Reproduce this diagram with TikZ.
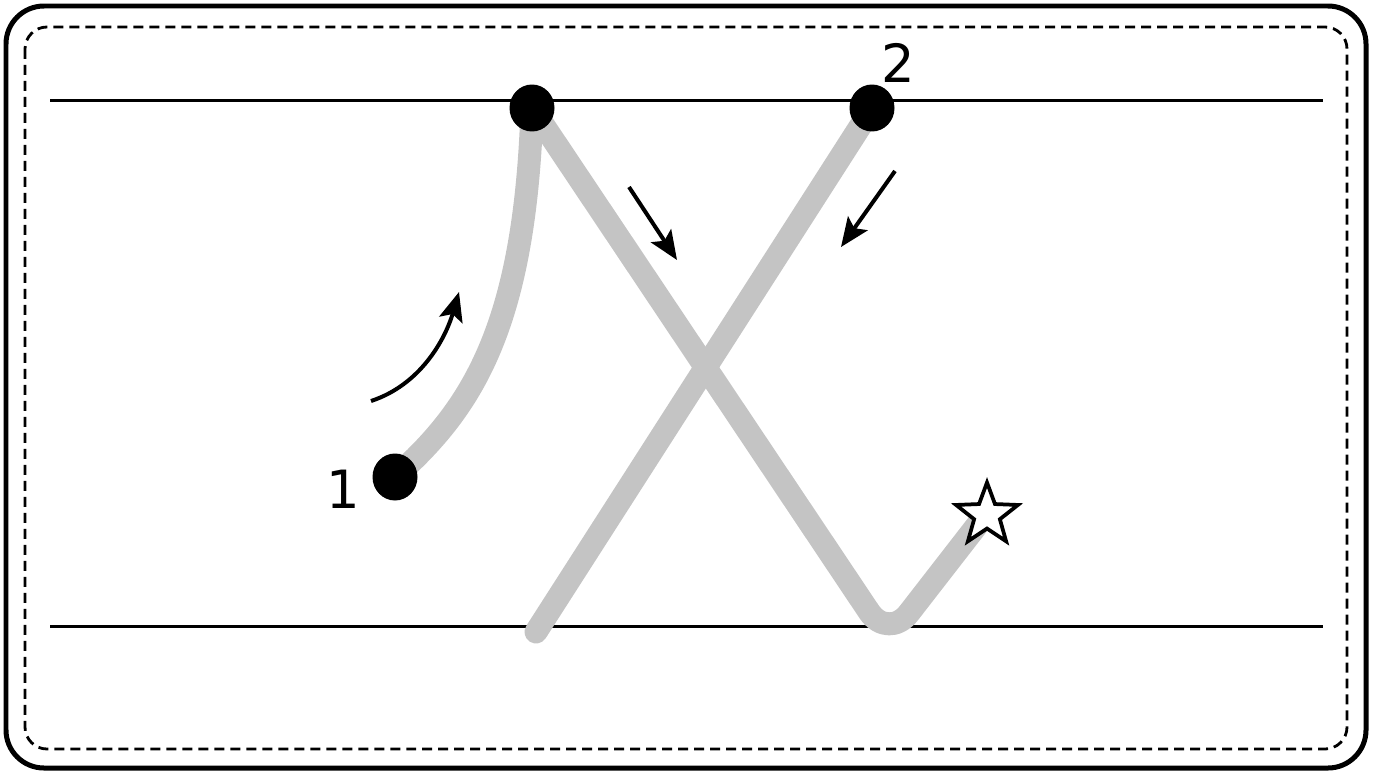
\documentclass[tikz,border=0pt]{standalone}
\usepackage{fontspec}
\setmainfont{DejaVu Sans}
\usetikzlibrary{arrows.meta,shapes.geometric}
\begin{document}
\begin{tikzpicture}[x=0.02cm,y=-0.02cm,
  stroke/.style={line width=0.46cm, draw=black!23, line cap=round, line join=round},
  guide/.style={line width=0.06cm, draw=black},
  dot/.style={ellipse, fill=black, minimum width=0.9cm, minimum height=0.94cm, inner sep=0pt},
  num/.style={font=\fontsize{30}{30}\selectfont, inner sep=0pt},
  hint/.style={line width=0.08cm, -{Stealth[length=0.58cm,width=0.48cm,inset=0.12cm]}}
]
\useasboundingbox (0,0) rectangle (1375,774);
% frames
\draw[line width=0.1cm, rounded corners=0.76cm] (6,6) rectangle (1366,768);
\draw[line width=0.056cm, dash pattern=on 0.2cm off 0.12cm, rounded corners=0.44cm] (25,27) rectangle (1347,749);
% guide lines
\coordinate (tl) at (50,100); \coordinate (tr) at (1323,100);
\coordinate (bl) at (50,626); \coordinate (br) at (1323,626);
\draw[guide] (tl) -- (tr);
\draw[guide] (bl) -- (br);
% points
\coordinate (p1) at (395,477);
\coordinate (pt) at (532,108);
\coordinate (p2) at (872,108);
\coordinate (pb) at (536,632);
\coordinate (pv) at (888,640);
\coordinate (ps) at (985,515);
% strokes
\draw[stroke] (p1) .. controls (470,410) and (525,330) .. (pt);
\draw[stroke, rounded corners=0.68cm] (pt) -- (pv) -- (ps);
\draw[stroke] (p2) -- (pb);
% dots
\node[dot] (d1) at (p1) {};
\node[dot] (dt) at (pt) {};
\node[dot] (d2) at (p2) {};
% star
\node[star, star points=5, star point ratio=2.4, draw=black, fill=white, line width=0.075cm, minimum size=1.3cm, inner sep=0pt] (st) at (987,515) {};
% labels
\node[num] (l1) at (343,489) {1};
\node[num] (l2) at (898,63) {2};
% hint arrows
\coordinate (a1s) at (371,401); \coordinate (a1e) at (459,292);
\draw[hint] (a1s) .. controls (420,385) and (445,340) .. (a1e);
\coordinate (a2s) at (629,187); \coordinate (a2e) at (677,260);
\draw[hint] (a2s) -- (a2e);
\coordinate (a3s) at (895,171); \coordinate (a3e) at (841,247);
\draw[hint] (a3s) -- (a3e);
\end{tikzpicture}
\end{document}
